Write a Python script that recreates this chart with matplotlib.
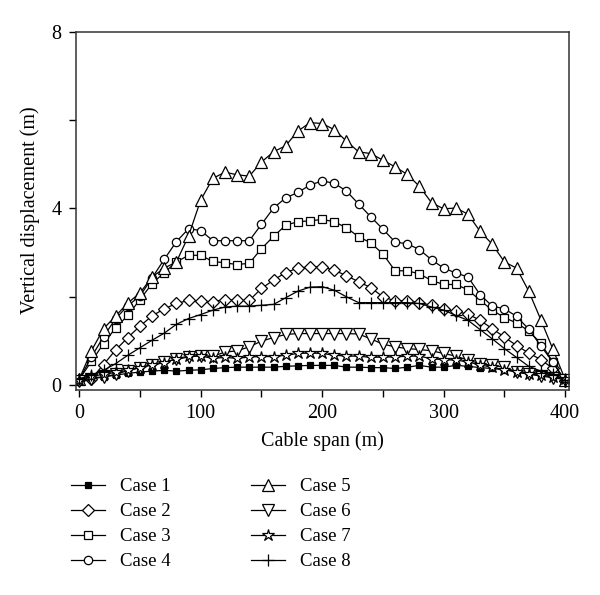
import numpy as np
import matplotlib
matplotlib.use("Agg")
import matplotlib.pyplot as plt

plt.rcParams['font.family'] = ['Liberation Serif', 'DejaVu Serif']

span = np.arange(0, 401, 10)

case1 = [0.12, 0.17, 0.19, 0.23, 0.27, 0.30, 0.32, 0.34, 0.32, 0.34,
         0.35, 0.38, 0.40, 0.41, 0.41, 0.41, 0.41, 0.43, 0.44, 0.45,
         0.45, 0.45, 0.41, 0.41, 0.40, 0.40, 0.38, 0.41, 0.45, 0.41,
         0.41, 0.45, 0.43, 0.40, 0.38, 0.35, 0.32, 0.28, 0.25, 0.22,
         0.13]
case2 = [0.13, 0.15, 0.47, 0.80, 1.08, 1.34, 1.57, 1.73, 1.85, 1.92,
         1.90, 1.89, 1.94, 1.92, 1.92, 2.19, 2.38, 2.55, 2.65, 2.68,
         2.68, 2.60, 2.48, 2.34, 2.21, 2.00, 1.91, 1.91, 1.87, 1.81,
         1.73, 1.67, 1.61, 1.47, 1.28, 1.09, 0.90, 0.73, 0.58, 0.38,
         0.10]
case3 = [0.13, 0.54, 0.94, 1.30, 1.58, 1.94, 2.30, 2.55, 2.79, 2.94,
         2.94, 2.80, 2.77, 2.73, 2.76, 3.09, 3.37, 3.62, 3.70, 3.72,
         3.75, 3.70, 3.56, 3.36, 3.22, 2.97, 2.59, 2.59, 2.52, 2.37,
         2.28, 2.28, 2.16, 1.92, 1.70, 1.53, 1.41, 1.23, 0.95, 0.52,
         0.10]
case4 = [0.13, 0.64, 1.10, 1.51, 1.80, 2.02, 2.43, 2.85, 3.25, 3.54,
         3.50, 3.27, 3.27, 3.27, 3.27, 3.64, 4.01, 4.24, 4.36, 4.53,
         4.62, 4.57, 4.39, 4.10, 3.81, 3.53, 3.24, 3.20, 3.07, 2.84,
         2.65, 2.54, 2.45, 2.05, 1.79, 1.73, 1.56, 1.27, 0.89, 0.52,
         0.10]
case5 = [0.14, 0.78, 1.28, 1.57, 1.86, 2.09, 2.45, 2.65, 2.79, 3.38,
         4.19, 4.68, 4.82, 4.76, 4.73, 5.05, 5.28, 5.42, 5.75, 5.94,
         5.92, 5.78, 5.52, 5.28, 5.24, 5.09, 4.94, 4.77, 4.50, 4.13,
         3.99, 4.01, 3.87, 3.48, 3.19, 2.79, 2.65, 2.13, 1.48, 0.81,
         0.13]
case6 = [0.10, 0.14, 0.19, 0.25, 0.33, 0.40, 0.47, 0.53, 0.59, 0.64,
         0.67, 0.66, 0.75, 0.78, 0.87, 1.00, 1.08, 1.15, 1.17, 1.17,
         1.17, 1.17, 1.17, 1.16, 1.05, 0.93, 0.87, 0.83, 0.81, 0.78,
         0.72, 0.66, 0.57, 0.49, 0.45, 0.41, 0.30, 0.25, 0.21, 0.17,
         0.13]
case7 = [0.13, 0.20, 0.25, 0.29, 0.34, 0.40, 0.46, 0.51, 0.60, 0.66,
         0.66, 0.61, 0.63, 0.61, 0.64, 0.65, 0.65, 0.68, 0.72, 0.73,
         0.72, 0.68, 0.66, 0.66, 0.63, 0.64, 0.64, 0.66, 0.66, 0.60,
         0.58, 0.57, 0.53, 0.46, 0.41, 0.35, 0.30, 0.26, 0.23, 0.19,
         0.15]
case8 = [0.15, 0.23, 0.34, 0.49, 0.68, 0.85, 1.02, 1.18, 1.38, 1.51,
         1.60, 1.70, 1.77, 1.79, 1.79, 1.81, 1.83, 1.98, 2.13, 2.22,
         2.23, 2.15, 2.00, 1.87, 1.87, 1.87, 1.87, 1.87, 1.85, 1.77,
         1.70, 1.58, 1.47, 1.26, 1.05, 0.83, 0.63, 0.43, 0.32, 0.25,
         0.13]

labels = ['Case 1', 'Case 2', 'Case 3', 'Case 4',
          'Case 5', 'Case 6', 'Case 7', 'Case 8']
series = [case1, case2, case3, case4, case5, case6, case7, case8]
# marker, size, face colour
styles = [('s', 5, 'black'), ('D', 6.5, 'white'), ('s', 5.5, 'white'),
          ('o', 6, 'white'), ('^', 8, 'white'), ('v', 8, 'white'),
          ('*', 9, 'white'), ('+', 8, 'white')]

fig = plt.figure(figsize=(6.0, 5.95), dpi=100)
ax = fig.add_axes([0.126, 0.345, 0.822, 0.602])

for y, lab, (m, ms, fc) in zip(series, labels, styles):
    ax.plot(span, y, color='black', lw=0.9, marker=m, ms=ms,
            mfc=fc, mec='black', mew=0.9, label=lab)

ax.set_xlim(-3, 403)
ax.set_ylim(-0.1, 8)
ax.set_xticks([0, 100, 200, 300, 400])
ax.set_xticks([50, 150, 250, 350], minor=True)
ax.set_yticks([0, 4, 8])
ax.set_yticks([2, 6], minor=True)
ax.tick_params(which='both', direction='out', length=5, width=1,
               labelsize=14.5, top=False, right=False, pad=5)
for s in ax.spines.values():
    s.set_linewidth(1.1)
    s.set_color('#333333')

ax.set_xlabel('Cable span (m)', fontsize=14.5, labelpad=6)
ax.set_ylabel('Vertical displacement (m)', fontsize=14.5, labelpad=8)

fig.legend(loc='upper left', bbox_to_anchor=(0.118, 1 - 478 / 595),
           ncol=2, frameon=False, fontsize=13.5, handlelength=1.8,
           handletextpad=0.8, columnspacing=4.3, labelspacing=0.42,
           borderpad=0, borderaxespad=0)

fig.savefig('out.png', dpi=100)
